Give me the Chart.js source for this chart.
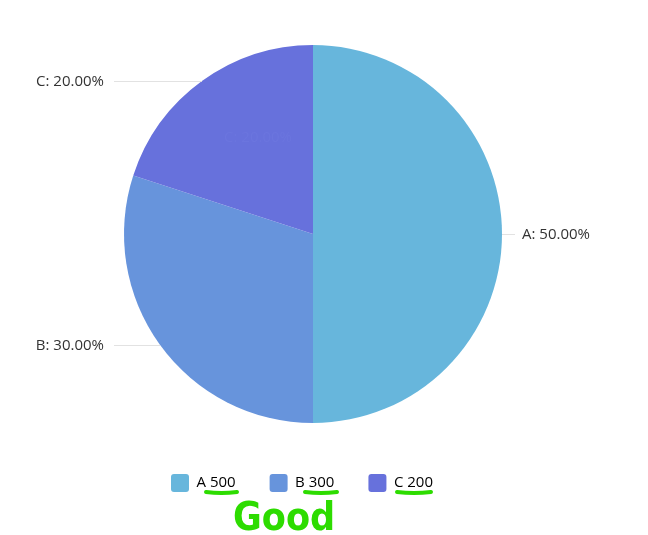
<!DOCTYPE html>
<html>
<head>
<meta charset="utf-8">
<script src="https://cdn.jsdelivr.net/npm/chart.js@4.4.0/dist/chart.umd.min.js"></script>
<style>
  html, body { margin: 0; padding: 0; background: #fff; }
  #wrap { width: 648px; height: 535px; }
</style>
</head>
<body>
<div id="wrap"><canvas id="pie" width="648" height="535"></canvas></div>
<script>
const categories = ['A', 'B', 'C'];
const values = [500, 300, 200];
const colors = ['#67b6dc', '#6794dc', '#6771dc'];

const total = values.reduce((s, v) => s + v, 0);
const pct = v => (v / total * 100).toFixed(2) + '%';

// outside labels with leader lines
const sliceLabels = {
  id: 'sliceLabels',
  afterDatasetsDraw(chart) {
    const ctx = chart.ctx;
    const arcs = chart.getDatasetMeta(0).data;
    ctx.save();
    ctx.font = '15px "Open Sans", "Noto Sans", sans-serif';
    ctx.textBaseline = 'middle';
    arcs.forEach((arc, i) => {
      const { x, y, startAngle, endAngle, outerRadius } = arc.getProps(['x', 'y', 'startAngle', 'endAngle', 'outerRadius'], true);
      const mid = (startAngle + endAngle) / 2;
      const ex = x + Math.cos(mid) * outerRadius;
      const ey = y + Math.sin(mid) * outerRadius;
      const right = Math.cos(mid) >= 0;
      const lx = right ? x + outerRadius + 13 : x - outerRadius - 10;
      ctx.strokeStyle = '#e2e2e2';
      ctx.lineWidth = 1;
      ctx.beginPath();
      ctx.moveTo(ex, Math.round(ey) + 0.5);
      ctx.lineTo(lx, Math.round(ey) + 0.5);
      ctx.stroke();
      ctx.fillStyle = '#333';
      ctx.textAlign = right ? 'left' : 'right';
      ctx.fillText(categories[i] + ': ' + pct(values[i]), right ? x + outerRadius + 20 : x - outerRadius - 20, ey + 1);
    });
    // faint hover label inside slice C
    const c = arcs[2];
    ctx.fillStyle = '#6b75de';
    ctx.textAlign = 'center';
    ctx.fillText(categories[2] + ': ' + pct(values[2]), c.x - 55, c.y - 96);
    ctx.restore();
  }
};

// green hand-written note under the legend
const note = {
  id: 'note',
  afterDraw(chart) {
    const ctx = chart.ctx;
    ctx.save();
    ctx.strokeStyle = '#2ddc00';
    ctx.lineWidth = 4;
    ctx.lineCap = 'round';
    [[206, 237], [305, 337], [397, 431]].forEach(([a, b]) => {
      ctx.beginPath();
      ctx.moveTo(a, 492);
      ctx.quadraticCurveTo((a + b) / 2, 494, b, 492);
      ctx.stroke();
    });
    ctx.fillStyle = '#2ddc00';
    ctx.font = 'bold 39px "Liberation Sans Narrow", "DejaVu Sans Condensed", "DejaVu Sans", sans-serif';
    ctx.textAlign = 'left';
    ctx.textBaseline = 'alphabetic';
    ctx.fillText('Good', 233, 530);
    ctx.restore();
  }
};

new Chart(document.getElementById('pie'), {
  type: 'pie',
  data: {
    labels: categories,
    datasets: [{
      data: values,
      backgroundColor: colors,
      borderWidth: 0,
      radius: 189,
      clip: false
    }]
  },
  options: {
    responsive: false,
    animation: false,
    layout: { padding: { left: 137, right: 159, top: 28, bottom: 33 } },
    plugins: {
      tooltip: { enabled: false },
      legend: {
        position: 'bottom',
        align: 'start',
        labels: {
          boxWidth: 18,
          boxHeight: 18,
          padding: 34,
          useBorderRadius: true,
          borderRadius: 3,
          color: '#333',
          font: { size: 15, family: '"Open Sans", "Noto Sans", sans-serif' },
          generateLabels: chart => categories.map((c, i) => ({
            text: c + ' ' + values[i],
            fillStyle: colors[i],
            strokeStyle: colors[i],
            lineWidth: 0,
            borderRadius: 3,
            hidden: false,
            index: i
          }))
        }
      }
    }
  },
  plugins: [sliceLabels, note]
});
</script>
</body>
</html>
